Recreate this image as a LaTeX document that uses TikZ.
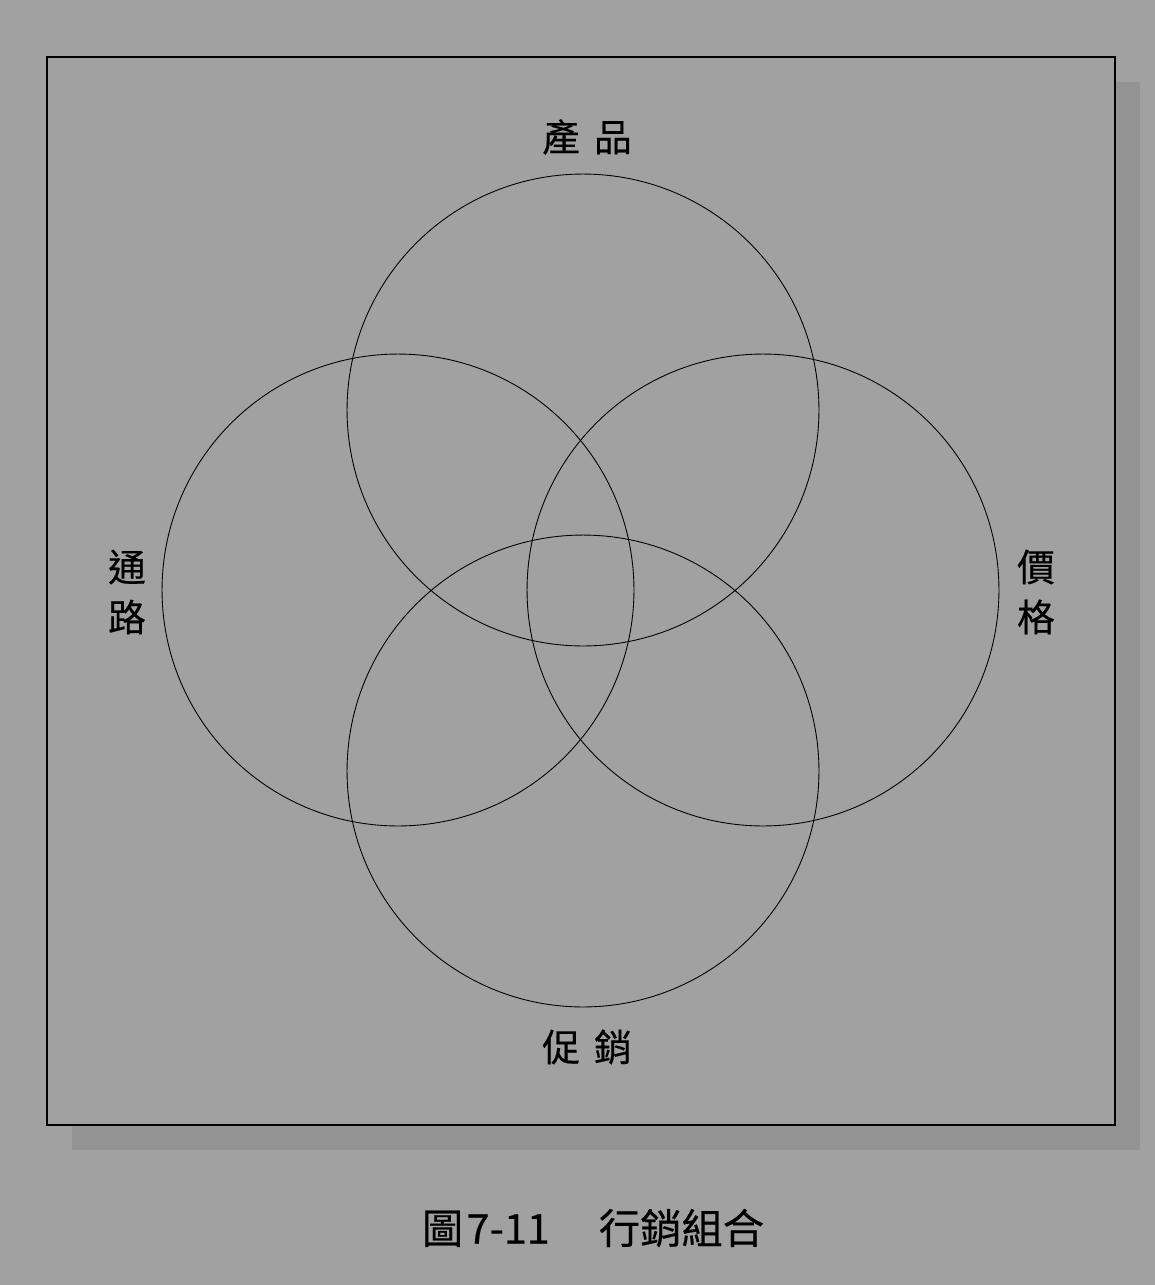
\documentclass[tikz,border=0pt]{standalone}
\usepackage{fontspec}
\newfontfamily\cjk[FakeBold=0.4]{Noto Sans CJK TC}
\definecolor{pagegray}{gray}{0.63}
\definecolor{shadegray}{gray}{0.575}
\begin{document}
\begin{tikzpicture}[x=0.02cm,y=-0.02cm,
  ring/.style={circle,draw,line width=0.5pt,minimum size=9.44cm,inner sep=0pt},
  lbl/.style={font={\cjk\fontsize{21.5}{28.5}\selectfont},align=center,inner sep=0pt}]
\fill[pagegray] (0,0) rectangle (1155,1285);
\useasboundingbox (0,0) rectangle (1155,1285);

% frame and its shadow
\fill[shadegray] (72,82) rectangle (1140,1150);
\draw[fill=pagegray,line width=0.8pt] (47,57) rectangle (1115,1125);

% the four circles
\node[ring] (prod) at (583,410) {};
\node[ring] (place) at (398,590) {};
\node[ring] (price) at (763,590) {};
\node[ring] (promo) at (583,771) {};

\node[lbl] (prodL) at (587,137) {產\hspace{8pt}品};
\node[lbl] (placeL) at (127,592) {通\\路};
\node[lbl] (priceL) at (1036,592) {價\\格};
\node[lbl] (promoL) at (587,1047) {促\hspace{8pt}銷};

\node[lbl,font={\cjk\fontsize{23.5}{28}\selectfont}] (title) at (593,1228) {圖\hspace{2pt}7-11\hspace{28pt}行銷組合};
\end{tikzpicture}
\end{document}
